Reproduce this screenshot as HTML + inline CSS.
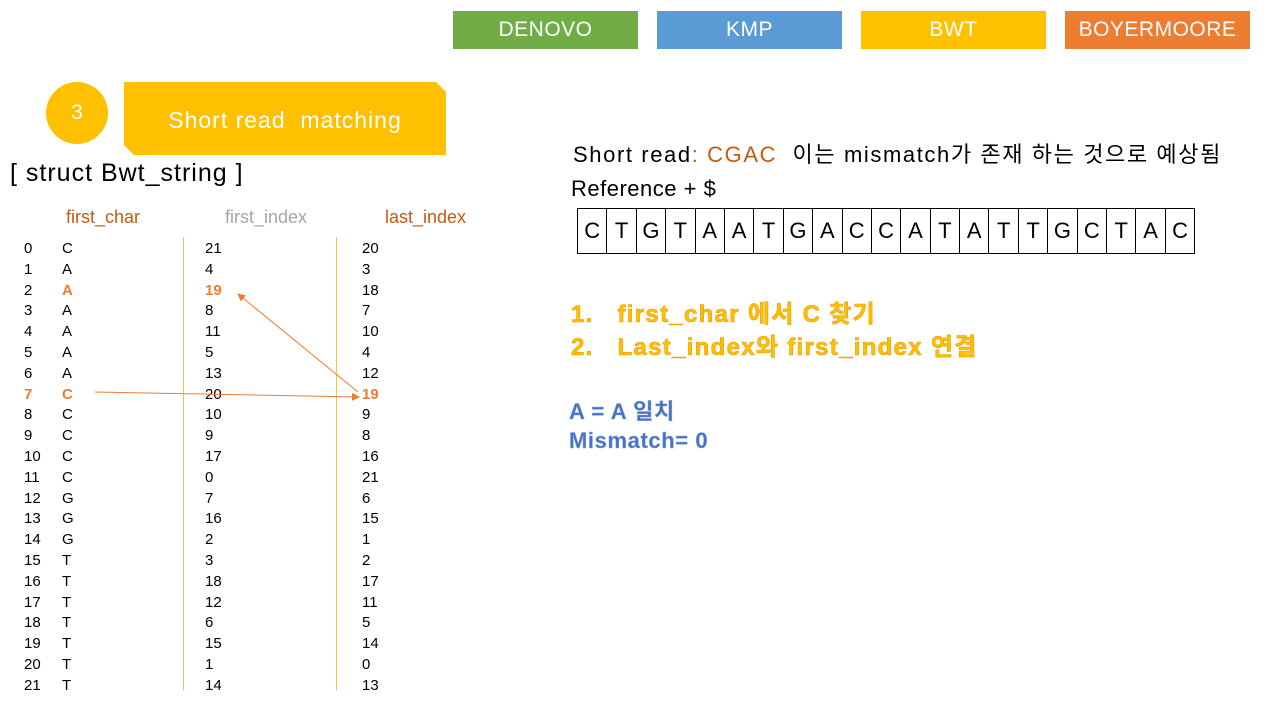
<!DOCTYPE html>
<html><head><meta charset="utf-8"><style>
body{margin:0;width:1280px;height:720px;background:#fff;position:relative;overflow:hidden;font-family:"Liberation Sans","Noto Sans CJK KR",sans-serif;color:#000}
.a{position:absolute;white-space:nowrap}
.btn{position:absolute;top:11px;width:185px;height:38px;color:#fff;font-size:21px;line-height:38px;text-align:center;letter-spacing:0.5px}
.r{position:absolute;font-size:15px;line-height:20px;height:20px}
.o{color:#ed7d31;font-weight:bold}
.cell{display:inline-block;width:28.4px;height:44px;border-left:1px solid #000;text-align:center;line-height:44px;font-size:22px}
</style></head><body>
<div class="btn" style="left:453px;background:#70ad47">DENOVO</div>
<div class="btn" style="left:657px;background:#5b9bd5">KMP</div>
<div class="btn" style="left:861px;background:#ffc000">BWT</div>
<div class="btn" style="left:1065px;background:#ed7d31">BOYERMOORE</div>

<div class="a" style="left:46px;top:82px;width:62px;height:62px;border-radius:50%;background:#ffc000;color:#fff;font-size:21px;line-height:62px;text-align:center">3</div>
<div class="a" style="left:124px;top:82px;width:322px;height:73px;background:#ffc000;clip-path:polygon(0 0,312px 0,100% 10px,100% 100%,10px 100%,0 63px);color:#fff;font-size:23px;line-height:76px;text-align:center;letter-spacing:1px">Short read&nbsp; matching</div>
<div class="a" style="left:10px;top:159px;font-size:25px;letter-spacing:1px">[ struct Bwt_string ]</div>

<div class="a" style="left:66px;top:207px;font-size:18px;color:#c55a11">first_char</div>
<div class="a" style="left:225px;top:207px;font-size:18px;color:#a6a6a6">first_index</div>
<div class="a" style="left:385px;top:207px;font-size:18px;color:#c55a11">last_index</div>
<div class="a" style="left:183px;top:237px;width:1px;height:453px;background:#f4c542"></div>
<div class="a" style="left:336px;top:237px;width:1px;height:453px;background:#f4c542"></div>

<div id="t"></div>
<script>
var fc="CAAAAAACCCCCGGGTTTTTTT",fi=[21,4,19,8,11,5,13,20,10,9,17,0,7,16,2,3,18,12,6,15,1,14],li=[20,3,18,7,10,4,12,19,9,8,16,21,6,15,1,2,17,11,5,14,0,13],h="";
for(var i=0;i<22;i++){var y=239+i*20.8;
h+='<div class="r'+(i==7?' o':'')+'" style="left:24px;top:'+y+'px">'+i+'</div>';
h+='<div class="r'+(i==7||i==2?' o':'')+'" style="left:62px;top:'+y+'px">'+fc[i]+'</div>';
h+='<div class="r'+(i==2?' o':'')+'" style="left:205px;top:'+y+'px">'+fi[i]+'</div>';
h+='<div class="r'+(i==7?' o':'')+'" style="left:362px;top:'+y+'px">'+li[i]+'</div>';}
document.getElementById('t').innerHTML=h;
</script>
<svg class="a" style="left:0;top:0" width="1280" height="720">
<defs><marker id="m" markerWidth="8" markerHeight="8" refX="7" refY="4" orient="auto"><path d="M0,0L8,4L0,8z" fill="#ed7d31"/></marker></defs>
<line x1="95" y1="392" x2="359" y2="397" stroke="#ed7d31" stroke-width="1" marker-end="url(#m)"/>
<line x1="358" y1="392" x2="238" y2="294" stroke="#ed7d31" stroke-width="1" marker-end="url(#m)"/>
</svg>

<div class="a" style="left:573px;top:137px;font-size:22px;letter-spacing:1.6px">Short read<span style="color:#c55a11">: CGAC</span>&nbsp; 이는 mismatch가 존재 하는 것으로 예상됨</div>
<div class="a" style="left:571px;top:176px;font-size:22px;letter-spacing:0.5px">Reference + $</div>
<div class="a" style="left:577px;top:208px;height:44px;border:1px solid #000;border-left:none;display:flex">
<span class="cell">C</span><span class="cell">T</span><span class="cell">G</span><span class="cell">T</span><span class="cell">A</span><span class="cell">A</span><span class="cell">T</span><span class="cell">G</span><span class="cell">A</span><span class="cell">C</span><span class="cell">C</span><span class="cell">A</span><span class="cell">T</span><span class="cell">A</span><span class="cell">T</span><span class="cell">T</span><span class="cell">G</span><span class="cell">C</span><span class="cell">T</span><span class="cell">A</span><span class="cell">C</span>
</div>

<div class="a" style="left:571px;top:298px;font-size:24px;font-weight:bold;color:#ffc000;line-height:33px;letter-spacing:1.3px;-webkit-text-stroke:0.6px #ed9a00">1.&nbsp;&nbsp;&nbsp;first_char 에서 C 찾기<br>2.&nbsp;&nbsp;&nbsp;Last_index와 first_index 연결</div>
<div class="a" style="left:569px;top:397px;font-size:22px;font-weight:bold;color:#4472c4;line-height:29px;letter-spacing:0.6px;-webkit-text-stroke:0.5px #8faadc">A = A 일치<br>Mismatch= 0</div>
</body></html>
